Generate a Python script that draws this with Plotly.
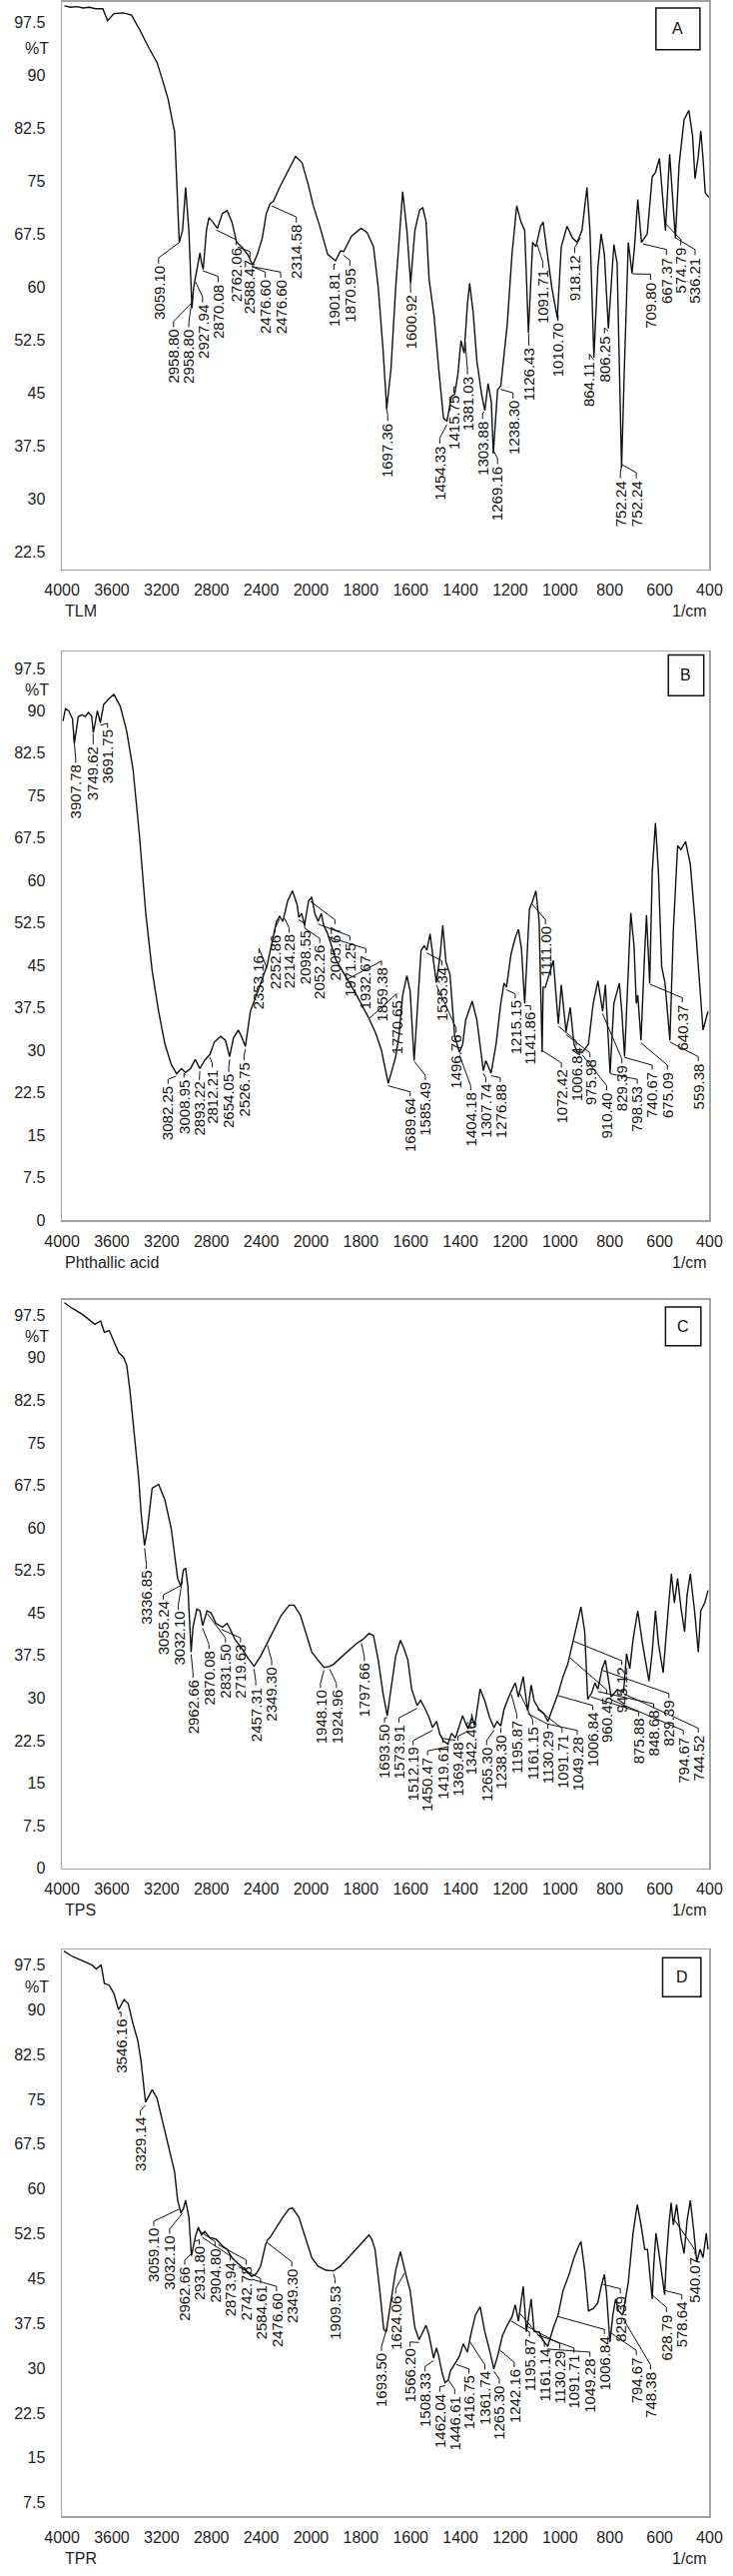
import numpy as np
import plotly.graph_objects as go

# ---------------- Panel A : TLM ----------------
A_wn = [3980, 3930, 3880, 3830, 3780, 3730, 3672, 3634, 3583, 3506,
        3442, 3378, 3301, 3237, 3186, 3148, 3109, 3096, 3084, 3071,
        3058, 3032, 3007, 2981, 2956, 2943, 2917, 2892, 2879, 2866,
        2840, 2820, 2789, 2751, 2712, 2674, 2635, 2597, 2559, 2508,
        2469, 2431, 2392, 2359, 2328, 2303, 2252, 2188, 2124, 2072,
        2021, 1991, 1965, 1933, 1901, 1882, 1869, 1837, 1799, 1775,
        1749, 1730, 1711, 1696, 1679, 1660, 1641, 1632, 1615, 1600,
        1583, 1564, 1551, 1538, 1526, 1506, 1487, 1468, 1454, 1436,
        1423, 1410, 1398, 1385, 1372, 1363, 1349, 1334, 1315, 1302,
        1289, 1276, 1268, 1251, 1238, 1212, 1193, 1174, 1157, 1142,
        1127, 1110, 1097, 1078, 1068, 1052, 1033, 1011, 995, 972,
        950, 931, 912, 892, 880, 864, 848, 835, 822, 806,
        784, 771, 753, 742, 726, 711, 701, 688, 673, 650,
        630, 617, 601, 577, 560, 537, 522, 502, 483, 468,
        458, 445, 435, 426, 417, 402]
A_T = [99.8, 99.6, 99.7, 99.5, 99.6, 99.4, 99.4, 97.7, 98.7, 98.8,
       98.5, 96.5, 93.8, 91.8, 88.9, 86.6, 83.1, 82.0, 77.3, 72.1,
       66.3, 68.0, 74.1, 68.0, 57.0, 59.9, 62.2, 64.8, 63.4, 62.5,
       68.0, 69.8, 69.2, 68.3, 70.4, 70.8, 69.2, 66.3, 65.7, 64.6,
       63.1, 64.6, 66.9, 70.4, 71.8, 72.1, 74.1, 76.4, 78.5, 77.6,
       74.4, 71.5, 68.6, 64.6, 63.7, 65.1, 65.0, 67.2, 68.3, 67.7,
       65.7, 59.9, 51.2, 42.8, 48.3, 59.9, 69.2, 73.5, 68.0, 60.5,
       68.0, 70.9, 71.2, 69.2, 61.1, 55.9, 48.3, 41.4, 41.0, 44.5,
       44.8, 47.7, 52.4, 50.6, 57.6, 60.5, 56.4, 49.5, 44.8, 42.5,
       46.3, 43.7, 36.4, 45.4, 46.0, 54.7, 64.6, 71.5, 69.2, 68.0,
       53.5, 66.3, 65.7, 68.6, 69.2, 65.1, 59.9, 55.6, 65.7, 68.6,
       66.9, 66.3, 68.0, 74.1, 68.0, 50.0, 62.8, 67.5, 64.6, 54.1,
       66.0, 63.4, 34.4, 48.3, 66.3, 61.9, 65.7, 72.4, 66.3, 67.5,
       75.6, 76.2, 78.2, 68.0, 78.8, 66.9, 77.3, 83.7, 85.0, 81.4,
       75.3, 78.5, 82.1, 78.2, 73.3, 72.7]
A_lab_txt = ["3059.10", "2958.80", "2958.80", "2927.94", "2870.08", "2762.06", "2588.47",
             "2476.60", "2476.60", "2314.58", "1901.81", "1870.95", "1697.36", "1600.92",
             "1454.33", "1415.75", "1381.03", "1303.88", "1269.16", "1238.30", "1126.43",
             "1091.71", "1010.70", "918.12", "864.11", "806.25", "752.24", "752.24",
             "709.80", "667.37", "574.79", "536.21"]
A_lab_x = [3224, 3104, 2981, 2871, 2746, 2602, 2490,
           2367, 2244, 2118, 1908, 1844, 1692, 1600,
           1483, 1427, 1372, 1311, 1251, 1189, 1125,
           1069, 1008, 941, 882, 822, 758, 694,
           637, 573, 515, 458]
A_lab_top = [63.1, 54.1, 54.1, 57.6, 60.5, 65.7, 64.0,
             61.1, 61.1, 68.9, 62.2, 62.8, 40.8, 59.0,
             37.6, 44.8, 47.4, 41.1, 34.7, 44.0, 51.5,
             62.5, 55.0, 64.6, 49.5, 53.2, 32.7, 32.7,
             60.8, 64.3, 65.7, 64.3]
A_yticks = [22.5, 30, 37.5, 45, 52.5, 60, 67.5, 75, 82.5, 90, 97.5]

# ---------------- Panel B : Phthallic acid ----------------
B_wn = [3992, 3972, 3946, 3916, 3900, 3869, 3839, 3813, 3788, 3762,
        3748, 3716, 3692, 3665, 3621, 3583, 3532, 3480, 3429, 3378,
        3327, 3276, 3224, 3173, 3122, 3080, 3040, 3008, 2968, 2930,
        2893, 2853, 2812, 2776, 2725, 2687, 2654, 2623, 2584, 2559,
        2527, 2508, 2487, 2353, 2303, 2277, 2252, 2226, 2188, 2149,
        2111, 2098, 2075, 2052, 2020, 1997, 1985, 1971, 1959, 1949,
        1933, 1900, 1860, 1820, 1771, 1740, 1717, 1700, 1690, 1673,
        1660, 1647, 1632, 1615, 1602, 1586, 1570, 1558, 1545, 1535,
        1522, 1506, 1497, 1481, 1471, 1458, 1442, 1423, 1404, 1391,
        1379, 1353, 1334, 1308, 1298, 1277, 1257, 1238, 1225, 1215,
        1197, 1180, 1167, 1155, 1142, 1123, 1110, 1097, 1084, 1072,
        1068, 1059, 1027, 1007, 995, 976, 959, 944, 931, 910,
        886, 867, 848, 829, 818, 799, 784, 762, 752, 741,
        729, 716, 703, 694, 688, 675, 662, 653, 640, 630,
        617, 605, 592, 579, 559, 545, 528, 515, 496, 477,
        458, 438, 426, 406]
B_T = [88.2, 90.4, 90.0, 88.6, 84.3, 89.0, 89.3, 89.0, 89.7, 89.1,
       86.1, 90.0, 87.9, 91.1, 92.2, 92.9, 90.8, 86.4, 79.6, 68.0,
       54.2, 44.1, 36.9, 31.1, 27.5, 25.9, 26.8, 26.1, 26.8, 28.4,
       26.8, 28.3, 29.3, 31.5, 32.5, 31.8, 28.9, 32.2, 33.6, 32.5,
       30.7, 33.3, 36.9, 45.0, 50.3, 52.8, 53.7, 52.8, 56.4, 58.2,
       55.7, 53.5, 54.2, 52.1, 56.4, 57.1, 54.2, 52.8, 54.2, 52.1,
       50.6, 46.0, 43.0, 40.0, 36.0, 33.0, 30.0, 26.0, 24.2, 26.8,
       28.9, 32.5, 39.8, 43.2, 40.5, 28.2, 39.8, 47.7, 48.5, 47.7,
       50.6, 44.8, 42.0, 47.0, 52.1, 45.6, 43.4, 32.5, 29.7, 31.1,
       35.4, 38.7, 35.4, 26.4, 28.2, 26.0, 31.1, 38.3, 41.9, 41.2,
       47.0, 49.9, 51.4, 48.0, 38.3, 55.0, 56.4, 58.2, 52.8, 29.7,
       41.2, 41.2, 45.9, 34.7, 41.6, 33.3, 37.6, 31.1, 29.7, 29.7,
       31.1, 38.3, 42.3, 36.9, 41.6, 26.0, 38.3, 41.9, 36.9, 28.9,
       42.7, 54.3, 48.5, 38.3, 39.8, 31.8, 45.6, 53.9, 41.9, 61.5,
       70.2, 61.5, 44.8, 42.0, 31.8, 51.4, 66.2, 65.5, 66.9, 62.9,
       52.8, 40.5, 33.6, 36.9]
B_lab_txt = ["3907.78", "3749.62", "3691.75", "3082.25", "3008.95", "2893.22", "2812.21",
             "2654.05", "2526.75", "2353.16", "2252.86", "2214.28", "2098.55", "2052.26",
             "2005.67", "1971.25", "1932.67", "1859.38", "1770.65", "1689.64", "1585.49",
             "1535.34", "1496.76", "1404.18", "1307.74", "1276.88", "1215.15", "1141.86",
             "1111.00", "1072.42", "1006.84", "975.98", "910.40", "829.39", "798.53",
             "740.67", "675.09", "640.37", "559.38"]
B_lab_x = [3890, 3749, 3634, 3148, 3020, 2897, 2794,
           2661, 2538, 2418, 2290, 2175, 2051, 1965,
           1904, 1844, 1780, 1717, 1657, 1602, 1541,
           1474, 1417, 1359, 1298, 1240, 1180, 1119,
           1059, 995, 935, 880, 813, 752, 690,
           630, 569, 509, 445]
B_lab_top = [80.6, 83.9, 86.8, 23.9, 25.0, 24.6, 26.8,
             26.0, 28.1, 47.0, 50.6, 50.6, 51.4, 48.8,
             52.1, 49.2, 47.0, 44.8, 39.0, 21.7, 24.6,
             44.8, 32.9, 22.8, 24.2, 24.2, 39.0, 36.9,
             52.1, 26.8, 30.7, 28.6, 22.8, 27.5, 23.9,
             26.4, 26.4, 38.3, 27.9]
B_yticks = [0, 7.5, 15, 22.5, 30, 37.5, 45, 52.5, 60, 67.5, 75, 82.5, 90, 97.5]

# ---------------- Panel C : TPS ----------------
C_wn = [3980, 3916, 3839, 3775, 3736, 3690, 3660, 3621, 3583, 3544,
        3506, 3480, 3455, 3416, 3383, 3365, 3337, 3314, 3276, 3224,
        3173, 3122, 3096, 3071, 3045, 3025, 3007, 2989, 2963, 2948,
        2917, 2892, 2870, 2835, 2802, 2764, 2712, 2674, 2648, 2610,
        2559, 2508, 2457, 2405, 2354, 2303, 2239, 2175, 2136, 2085,
        2034, 1997, 1972, 1948, 1925, 1908, 1882, 1857, 1818, 1793,
        1767, 1749, 1730, 1711, 1694, 1679, 1660, 1641, 1628, 1611,
        1596, 1574, 1560, 1545, 1526, 1512, 1496, 1483, 1468, 1450,
        1436, 1420, 1410, 1391, 1379, 1369, 1355, 1342, 1321, 1302,
        1283, 1265, 1253, 1238, 1225, 1206, 1180, 1167, 1148, 1130,
        1116, 1104, 1084, 1065, 1049, 1027, 1007, 988, 969, 950,
        931, 916, 901, 889, 873, 860, 848, 831, 818, 809,
        795, 770, 745, 733, 720, 707, 688, 669, 643, 630,
        617, 605, 586, 566, 553, 541, 528, 515, 500, 490,
        477, 460, 445, 435, 419, 406]
C_T = [99.7, 98.7, 97.7, 96.6, 95.9, 96.5, 94.5, 94.8, 93.0, 90.9,
       90.1, 88.7, 84.4, 75.7, 68.5, 62.7, 56.9, 59.8, 67.0, 67.7,
       64.9, 59.8, 55.5, 51.1, 49.7, 52.6, 52.9, 49.7, 38.1, 42.5,
       45.7, 45.4, 42.8, 45.4, 45.0, 43.2, 42.5, 43.2, 42.1, 40.3,
       38.9, 37.1, 35.6, 37.4, 39.6, 41.7, 44.6, 46.4, 46.4, 44.6,
       41.0, 38.1, 36.7, 35.4, 35.6, 36.0, 37.1, 38.1, 39.6, 40.3,
       41.4, 41.0, 36.7, 30.9, 26.9, 31.6, 37.4, 40.2, 38.9, 36.7,
       31.6, 28.7, 29.6, 28.4, 26.6, 24.8, 25.9, 23.7, 22.4, 21.9,
       23.8, 23.0, 24.4, 26.9, 25.5, 24.6, 26.5, 25.3, 31.6, 29.5,
       26.6, 24.8, 25.9, 25.1, 28.0, 30.2, 32.7, 30.2, 33.8, 27.7,
       32.3, 29.5, 28.0, 27.3, 25.9, 28.7, 30.9, 33.8, 36.0, 39.6,
       43.2, 46.1, 41.7, 29.8, 30.9, 32.7, 31.6, 35.2, 36.7, 33.8,
       30.2, 31.5, 31.0, 37.8, 35.2, 40.3, 45.4, 39.6, 33.0, 38.1,
       45.4, 39.6, 34.5, 45.4, 51.9, 46.8, 51.1, 46.1, 41.7, 48.2,
       51.9, 45.4, 38.1, 45.4, 46.8, 49.0]
C_lab_txt = ["3336.85", "3055.24", "3032.10", "2962.66", "2870.08", "2831.50", "2719.63",
             "2457.31", "2349.30", "1948.10", "1924.96", "1797.66", "1693.50", "1573.91",
             "1512.19", "1450.47", "1419.61", "1369.48", "1342.46", "1265.30", "1238.30",
             "1195.87", "1161.15", "1130.29", "1091.71", "1049.28", "1006.84", "960.45",
             "945.12", "875.88", "848.68", "829.39", "794.67", "744.52"]
C_lab_x = [3322, 3186, 3066, 2948, 2820, 2687, 2566,
           2444, 2316, 1962, 1898, 1786, 1705, 1647,
           1590, 1532, 1471, 1410, 1355, 1295, 1238,
           1174, 1110, 1049, 992, 931, 869, 813,
           752, 684, 624, 563, 505, 445]
C_lab_top = [52.6, 47.2, 45.4, 33.4, 38.5, 39.6, 39.6,
             32.0, 35.6, 31.6, 31.6, 36.3, 25.5, 25.5,
             21.5, 19.7, 21.9, 22.3, 26.2, 21.5, 23.7,
             26.2, 25.1, 24.4, 23.7, 23.3, 27.7, 30.5,
             35.6, 26.6, 28.0, 29.8, 23.3, 23.7]
C_yticks = [0, 7.5, 15, 22.5, 30, 37.5, 45, 52.5, 60, 67.5, 75, 82.5, 90, 97.5]

# ---------------- Panel D : TPR ----------------
D_wn = [3985, 3916, 3839, 3762, 3724, 3685, 3660, 3621, 3583, 3546,
        3501, 3468, 3429, 3391, 3365, 3347, 3329, 3301, 3276, 3237,
        3199, 3160, 3122, 3096, 3071, 3045, 3025, 3007, 2981, 2960,
        2930, 2905, 2879, 2853, 2815, 2764, 2712, 2674, 2635, 2584,
        2533, 2476, 2440, 2405, 2367, 2349, 2328, 2277, 2226, 2175,
        2149, 2098, 2046, 1997, 1972, 1940, 1909, 1882, 1844, 1805,
        1767, 1756, 1743, 1724, 1708, 1698, 1679, 1660, 1641, 1628,
        1615, 1602, 1583, 1566, 1551, 1538, 1526, 1508, 1496, 1487,
        1474, 1462, 1449, 1440, 1423, 1404, 1389, 1372, 1359, 1340,
        1321, 1302, 1283, 1266, 1251, 1231, 1212, 1193, 1180, 1167,
        1148, 1135, 1116, 1104, 1084, 1065, 1049, 1027, 1008, 988,
        963, 944, 925, 916, 901, 886, 867, 848, 835, 822,
        813, 800, 788, 777, 765, 748, 726, 707, 690, 675,
        660, 649, 630, 624, 615, 605, 580, 573, 563, 554,
        545, 532, 515, 502, 490, 477, 464, 451, 438, 426,
        413, 406]
D_T = [99.8, 98.9, 98.2, 97.5, 96.8, 97.5, 94.4, 94.1, 92.7, 90.0,
       91.7, 91.0, 87.6, 84.8, 81.4, 77.3, 74.5, 75.6, 76.6, 75.2,
       71.8, 68.4, 64.9, 62.9, 58.1, 56.0, 56.7, 58.1, 55.3, 48.8,
       51.9, 53.6, 52.3, 52.9, 51.9, 51.6, 50.5, 49.9, 48.5, 47.5,
       46.4, 45.4, 45.8, 47.1, 50.5, 51.5, 51.9, 53.6, 55.3, 56.7,
       56.8, 55.3, 51.9, 48.5, 47.1, 46.4, 46.3, 47.1, 48.8, 50.5,
       52.3, 51.6, 49.9, 43.0, 36.5, 36.1, 41.6, 46.4, 49.5, 47.1,
       45.0, 43.0, 36.8, 34.8, 36.1, 37.2, 35.5, 31.7, 33.4, 32.0,
       29.3, 27.6, 28.0, 29.6, 30.7, 32.0, 34.1, 32.7, 35.5, 38.9,
       40.3, 36.1, 33.0, 29.9, 32.0, 35.5, 37.2, 38.6, 40.6, 37.9,
       43.7, 36.1, 41.6, 36.1, 36.1, 34.4, 33.7, 36.8, 38.9, 43.0,
       45.8, 48.5, 50.5, 51.2, 46.4, 39.6, 40.0, 41.0, 43.7, 45.7,
       42.3, 34.4, 38.9, 41.6, 39.6, 38.9, 44.4, 52.6, 57.4, 54.0,
       49.9, 49.9, 41.6, 47.1, 52.6, 49.9, 42.3, 48.5, 54.0, 57.7,
       54.0, 57.4, 51.9, 49.2, 54.7, 58.1, 53.3, 47.8, 49.9, 48.5,
       52.6, 49.9]
D_lab_txt = ["3546.16", "3329.14", "3059.10", "3032.10", "2962.66", "2931.80", "2904.80",
             "2873.94", "2742.78", "2584.61", "2476.60", "2349.30", "1909.53", "1693.50",
             "1624.06", "1566.20", "1508.33", "1462.04", "1446.61", "1416.75", "1361.74",
             "1265.30", "1242.16", "1195.87", "1161.14", "1130.29", "1091.71", "1049.28",
             "1006.84", "829.39", "794.67", "748.38", "628.79", "578.64", "540.07"]
D_lab_x = [3526, 3370, 3263, 3135, 3014, 2897, 2771,
           2648, 2520, 2405, 2277, 2154, 1904, 1717,
           1660, 1602, 1542, 1483, 1423, 1366, 1302,
           1244, 1184, 1123, 1063, 1001, 944, 880,
           822, 758, 694, 637, 573, 511, 458]
D_lab_top = [88.6, 72.1, 53.6, 52.3, 47.1, 50.5, 50.2,
             47.8, 47.1, 44.0, 42.7, 46.8, 44.0, 32.7,
             42.3, 33.4, 29.3, 25.9, 25.5, 28.9, 29.6,
             27.2, 30.0, 35.1, 33.4, 33.1, 32.4, 31.7,
             35.5, 42.3, 32.0, 29.6, 39.2, 41.3, 48.8]
D_yticks = [7.5, 15, 22.5, 30, 37.5, 45, 52.5, 60, 67.5, 75, 82.5, 90, 97.5]

X_TICK_WN = [4000, 3600, 3200, 2800, 2400, 2000, 1800, 1600, 1400, 1200, 1000, 800, 600, 400]


def to_u(w):
    """Shimadzu-style split wavenumber scale: 4000-2000 compressed, 2000-400 expanded."""
    w = np.asarray(w, dtype=float)
    return np.where(w >= 2000, (4000 - w) / 400.0, 5 + (2000 - w) / 200.0)


W, H = 734, 2578
X0, X1 = 46, 723
FONT = "Liberation Sans, Arial, sans-serif"
INK = "#111111"
TXT = "#1e1e1e"

panels = [
    dict(letter="A", tag="TLM", wn=A_wn, T=A_T, lt=A_lab_txt, lx=A_lab_x, ly=A_lab_top,
         top=1, bot=571, yr=[20.0, 100.35], yt=A_yticks, box=(667, 7, 713, 49)),
    dict(letter="B", tag="Phthallic acid", wn=B_wn, T=B_T, lt=B_lab_txt, lx=B_lab_x, ly=B_lab_top,
         top=654, bot=1225, yr=[0.0, 100.4], yt=B_yticks, box=(680, 657, 717, 698)),
    dict(letter="C", tag="TPS", wn=C_wn, T=C_T, lt=C_lab_txt, lx=C_lab_x, ly=C_lab_top,
         top=1305, bot=1876, yr=[0.0, 100.2], yt=C_yticks, box=(677, 1312, 714, 1351)),
    dict(letter="D", tag="TPR", wn=D_wn, T=D_T, lt=D_lab_txt, lx=D_lab_x, ly=D_lab_top,
         top=1958, bot=2527, yr=[5.25, 100.0], yt=D_yticks, box=(674, 1966, 714, 2005)),
]

fig = go.Figure()
annotations = []
shapes = []
layout_axes = {}

for i, p in enumerate(panels, start=1):
    xs = "x" if i == 1 else f"x{i}"
    ys = "y" if i == 1 else f"y{i}"
    xa = "xaxis" if i == 1 else f"xaxis{i}"
    ya = "yaxis" if i == 1 else f"yaxis{i}"

    wn = np.array(p["wn"], dtype=float)
    T = np.array(p["T"], dtype=float)

    # spectrum
    fig.add_trace(go.Scatter(x=to_u(wn), y=T, mode="lines", xaxis=xs, yaxis=ys,
                             line=dict(color=INK, width=1.4), hoverinfo="skip",
                             showlegend=False))

    # leader lines from peak to label
    lxs, lys = [], []
    for txt, lx, ly in zip(p["lt"], p["lx"], p["ly"]):
        pk = float(txt)
        pk_y = float(np.interp(pk, wn[::-1], T[::-1]))
        ux = float(to_u(lx))
        lxs += [ux, ux, float(to_u(pk)), None]
        lys += [ly + 0.2, ly + 1.0, pk_y - 0.5, None]
        annotations.append(dict(
            x=ux, y=ly, xref=xs, yref=ys, text=txt, textangle=-90,
            showarrow=False, xanchor="center", yanchor="top", borderpad=0,
            font=dict(family=FONT, size=15, color=INK)))
    fig.add_trace(go.Scatter(x=lxs, y=lys, mode="lines", xaxis=xs, yaxis=ys,
                             line=dict(color=INK, width=1), hoverinfo="skip",
                             showlegend=False, connectgaps=False))

    layout_axes[xa] = dict(
        domain=[X0 / W, X1 / W], anchor=ys, range=[0, 13],
        tickmode="array", tickvals=list(range(len(X_TICK_WN))),
        ticktext=[str(v) for v in X_TICK_WN],
        showline=True, mirror=True, linecolor="#a3a3a3", linewidth=1.5,
        ticks="", showgrid=False, zeroline=False, ticklabelstandoff=6,
        ticklabeloverflow="allow",
        tickfont=dict(family=FONT, size=16, color=TXT))
    layout_axes[ya] = dict(
        domain=[1 - p["bot"] / H, 1 - p["top"] / H], anchor=xs, range=p["yr"],
        tickmode="array", tickvals=p["yt"], ticktext=[f"{v:g}" for v in p["yt"]],
        showline=True, mirror=True, linecolor="#a3a3a3", linewidth=1.5,
        ticks="", showgrid=False, zeroline=False, ticklabelstandoff=12,
        ticklabeloverflow="allow",
        tickfont=dict(family=FONT, size=16, color=TXT))

    # %T unit label
    annotations.append(dict(x=34 / W, y=93.75, xref="paper", yref=ys, text="%T",
                            showarrow=False, xanchor="right", yanchor="middle",
                            font=dict(family=FONT, size=16, color=TXT)))
    # sample name and unit
    annotations.append(dict(x=47 / W, y=1 - (p["bot"] + 42) / H, xref="paper", yref="paper",
                            text=p["tag"], showarrow=False, xanchor="left", yanchor="middle",
                            font=dict(family=FONT, size=16, color=TXT)))
    annotations.append(dict(x=723 / W, y=1 - (p["bot"] + 42) / H, xref="paper", yref="paper",
                            text="1/cm", showarrow=False, xanchor="right", yanchor="middle",
                            font=dict(family=FONT, size=16, color=TXT)))
    # panel letter box
    bx0, by0, bx1, by1 = p["box"]
    shapes.append(dict(type="rect", xref="paper", yref="paper",
                       x0=bx0 / W, x1=bx1 / W, y0=1 - by1 / H, y1=1 - by0 / H,
                       line=dict(color=INK, width=1.5), fillcolor="white"))
    annotations.append(dict(x=(bx0 + bx1) / 2 / W, y=1 - (by0 + by1) / 2 / H,
                            xref="paper", yref="paper", text=p["letter"], showarrow=False,
                            xanchor="center", yanchor="middle",
                            font=dict(family=FONT, size=16, color=INK)))

fig.update_layout(
    width=W, height=H, margin=dict(l=0, r=0, t=0, b=0),
    paper_bgcolor="white", plot_bgcolor="white",
    showlegend=False, annotations=annotations, shapes=shapes,
    **layout_axes)

fig.write_html("out.html",
               config={"displayModeBar": False, "staticPlot": True},
               post_script="document.body.style.margin='0';"
                           "document.body.style.overflow='hidden';"
                           "document.documentElement.style.overflow='hidden';")
